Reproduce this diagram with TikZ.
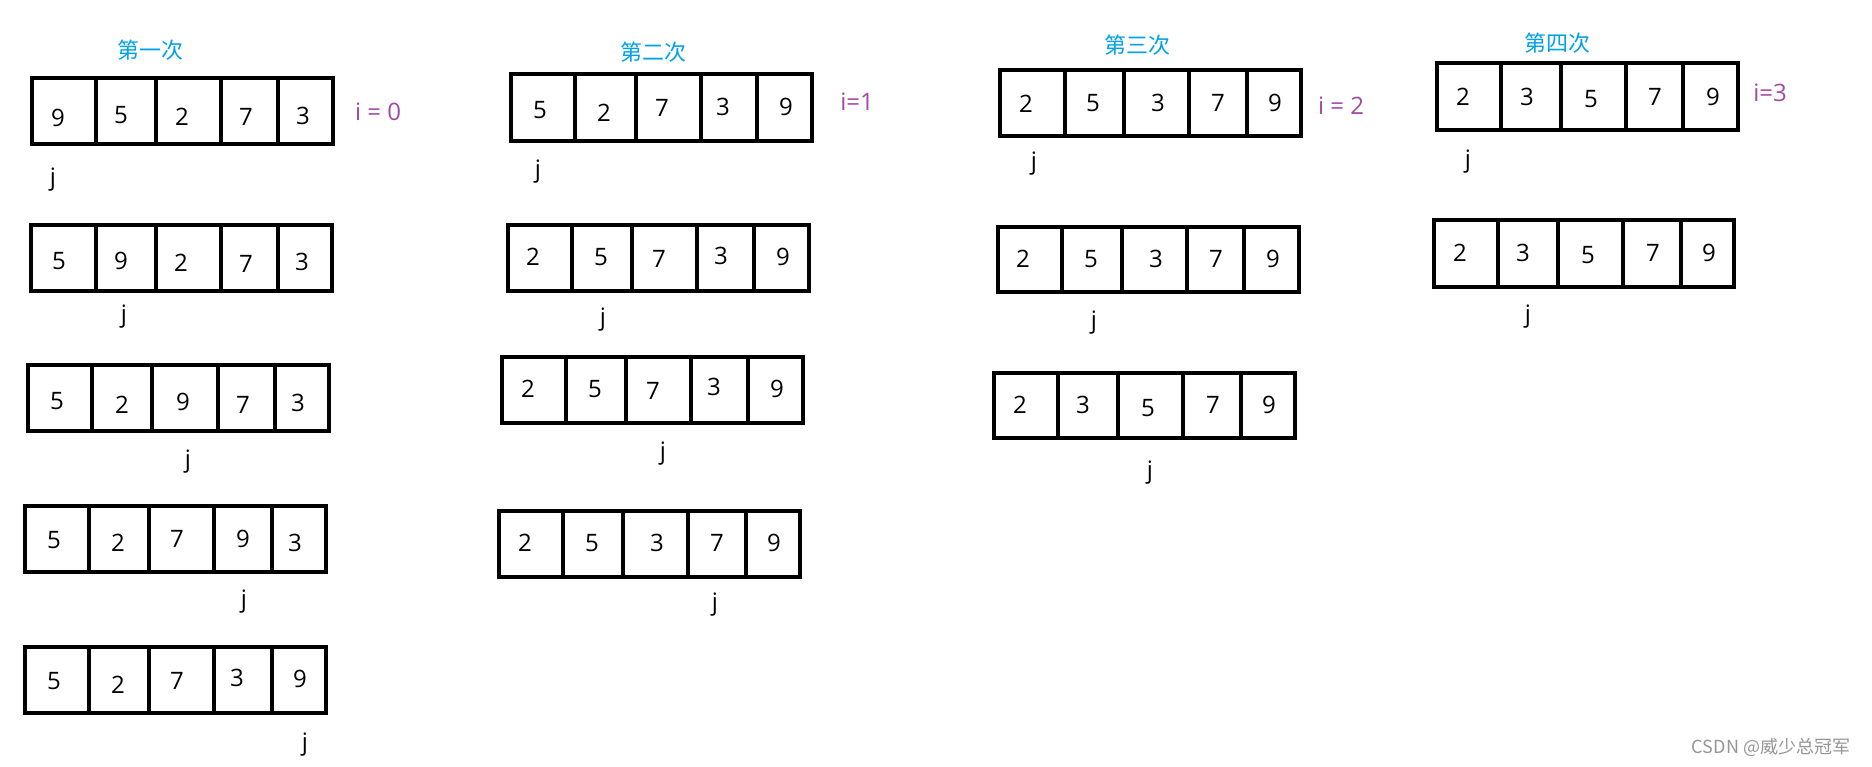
\documentclass[tikz,border=0pt]{standalone}
\usepackage{fontspec}
\setmainfont{Open Sans}
\newfontfamily\cjk{Noto Sans CJK SC}
\definecolor{tblue}{RGB}{0,162,232}
\definecolor{ipurple}{RGB}{163,73,164}
\definecolor{wmgray}{RGB}{150,150,150}
\tikzset{
  cellbox/.style={draw=black, line width=3.5pt},
  num/.style={font=\fontsize{24}{28}\selectfont, inner sep=0pt},
  jlab/.style={font=\fontsize{24}{28}\selectfont, inner sep=0pt},
  ilab/.style={font=\fontsize{24}{28}\selectfont, text=ipurple, inner sep=0pt},
  passtitle/.style={font=\cjk\fontsize{22}{26}\selectfont, text=tblue, inner sep=0pt},
  wmark/.style={font=\cjk\fontsize{18}{22}\selectfont, text=wmgray, inner sep=0pt},
}
\newcommand\arrrow[4]{%
  \foreach \xl/\xr/\n/\nx/\ny [count=\k] in {#4} {
    \draw[cellbox] (\xl,#2) rectangle (\xr,#3);
    \node[num] (#1-\k) at (\nx,\ny) {\n};
  }}
\begin{document}
\begin{tikzpicture}[x=1pt,y=-1pt]
\useasboundingbox[fill=white] (0,0) rectangle (1872,766);

% ---- pass 1
\node[passtitle] (t1) at (150,50) {第一次};
\node[ilab] (i1) at (378,112) {i = 0};
\arrrow{a1}{78}{144}{32/96/9/58/118, 96/156/5/121/115, 156/221/2/182/117, 221/278/7/246/117, 278/333/3/303/116}
\node[jlab] (ja1) at (53,180) {j};
\arrrow{a2}{225}{291}{31/96/5/59/261, 96/156/9/121/261, 156/221/2/181/263, 221/278/7/246/264, 278/332/3/302/262}
\node[jlab] (ja2) at (124,317) {j};
\arrrow{a3}{365}{431}{28/92/5/57/401, 92/152/2/122/405, 152/218/9/183/402, 218/275/7/243/405, 275/329/3/298/403}
\node[jlab] (ja3) at (188,462) {j};
\arrrow{a4}{506}{572}{25/89/5/54/540, 89/149/2/118/543, 149/214/7/177/539, 214/272/9/243/539, 272/326/3/295/543}
\node[jlab] (ja4) at (244,602) {j};
\arrrow{a5}{647}{713}{25/89/5/54/681, 89/149/2/118/685, 149/214/7/177/681, 214/272/3/237/678, 272/326/9/300/679}
\node[jlab] (ja5) at (305,745) {j};

% ---- pass 2
\node[passtitle] (t2) at (653,52) {第二次};
\node[ilab] (i2) at (857,102) {i=1};
\arrrow{b1}{74}{141}{511/575/5/540/110, 575/636/2/604/113, 636/701/7/662/108, 701/757/3/723/107, 757/812/9/786/107}
\node[jlab] (jb1) at (538,172) {j};
\arrrow{b2}{225}{291}{508/572/2/533/257, 572/632/5/601/257, 632/697/7/659/259, 697/754/3/721/256, 754/809/9/783/257}
\node[jlab] (jb2) at (603,320) {j};
\arrrow{b3}{357}{423}{502/566/2/528/389, 566/626/5/595/389, 626/691/7/653/391, 691/748/3/714/387, 748/803/9/777/389}
\node[jlab] (jb3) at (663,454) {j};
\arrrow{b4}{511}{577}{499/563/2/525/543, 563/623/5/592/543, 623/688/3/657/543, 688/746/7/717/543, 746/800/9/774/543}
\node[jlab] (jb4) at (715,605) {j};

% ---- pass 3
\node[passtitle] (t3) at (1137,45) {第三次};
\node[ilab] (i3) at (1341,106) {i = 2};
\arrrow{c1}{70}{136}{1000/1065/2/1026/104, 1065/1124/5/1093/103, 1124/1189/3/1158/103, 1189/1247/7/1218/103, 1247/1301/9/1275/103}
\node[jlab] (jc1) at (1034,164) {j};
\arrrow{c2}{227}{292}{998/1062/2/1023/259, 1062/1122/5/1091/259, 1122/1187/3/1156/259, 1187/1244/7/1216/259, 1244/1299/9/1273/259}
\node[jlab] (jc2) at (1094,323) {j};
\arrrow{c3}{373}{438}{994/1058/2/1020/405, 1058/1118/3/1083/405, 1118/1183/5/1148/408, 1183/1241/7/1213/405, 1241/1295/9/1269/405}
\node[jlab] (jc3) at (1150,473) {j};

% ---- pass 4
\node[passtitle] (t4) at (1557,43) {第四次};
\node[ilab] (i4) at (1770,93) {i=3};
\arrrow{d1}{63}{130}{1437/1501/2/1463/97, 1501/1561/3/1527/97, 1561/1626/5/1591/99, 1626/1683/7/1655/97, 1683/1738/9/1713/97}
\node[jlab] (jd1) at (1468,162) {j};
\arrrow{d2}{220}{287}{1434/1498/2/1460/253, 1498/1558/3/1523/253, 1558/1623/5/1588/255, 1623/1681/7/1653/253, 1681/1734/9/1709/253}
\node[jlab] (jd2) at (1528,317) {j};

% ---- watermark
\node[wmark] (wm) at (1771,747) {CSDN @威少总冠军};
\end{tikzpicture}
\end{document}
